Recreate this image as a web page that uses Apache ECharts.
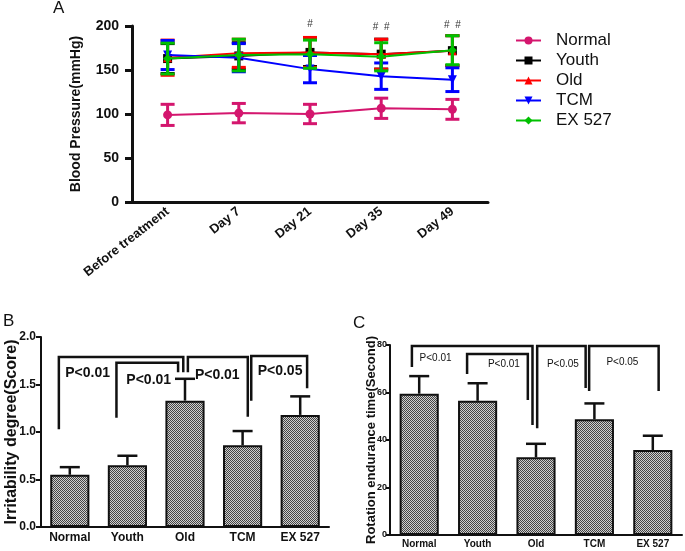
<!DOCTYPE html>
<html>
<head>
<meta charset="utf-8">
<title>Blood pressure, irritability and rotation endurance</title>
<script src="https://cdn.jsdelivr.net/npm/echarts@6/dist/echarts.min.js"></script>
<style>
  html, body { margin: 0; background: #fff; }
  #main { width: 685px; height: 551px; }
</style>
</head>
<body>
<div id="main"></div>
<script>
// ---- data ----
var days = ['Before treatment', 'Day 7', 'Day 21', 'Day 35', 'Day 49'];
var groups = ['Normal', 'Youth', 'Old', 'TCM', 'EX 527'];

// panel A: blood pressure (mean, error)
var bpNormal = [99, 101, 100, 106.5, 105.3];
var bpNormalErr = [12, 11, 11, 11.5, 11.3];
var bpYouth = [163, 166, 170, 168, 172];
var bpYouthErr = [17, 15, 16, 17, 17];
var bpOld = [164, 169, 170, 168, 172];
var bpOldErr = [20, 16, 17, 17, 17];
var bpTcm = [167, 164, 151, 143, 139];
var bpTcmErr = [16.5, 16, 15.5, 15, 13.5];
var bpEx = [163, 167, 168, 165, 172.5];
var bpExErr = [17.5, 18, 16, 16, 16.5];
var hashText = ['#', '#  #', '#  #'];
var hashPos = [[2, 202], [3, 199], [4, 201]];

// panel B: irritability degree
var irrMean = [0.55, 0.65, 1.33, 0.86, 1.18];
var irrErr = [0.08, 0.10, 0.23, 0.15, 0.195];
// bracket: [left x, right x, top, left end, right end], x in category units
var irrBrackets = [
  [-0.19, 1.97, 1.79, 1.03, 1.63],
  [0.81, 1.88, 1.73, 1.15, 1.63],
  [2.05, 3.09, 1.79, 1.63, 1.16],
  [3.15, 4.12, 1.80, 1.33, 1.46]
];
var irrPText = ['P<0.01', 'P<0.01', 'P<0.01', 'P<0.05'];
var irrPPos = [[0.31, 1.62], [1.37, 1.55], [2.56, 1.60], [3.65, 1.64]];

// panel C: rotation endurance time
var rotMean = [59.5, 56.5, 32.7, 48.7, 35.8];
var rotErr = [7.4, 7.4, 5.7, 6.7, 6.0];
var rotBrackets = [
  [-0.125, 1.94, 79.6, 70.7, 46.3],
  [0.82, 1.86, 76.2, 67.8, 56.8],
  [2.02, 2.85, 79.6, 45, 61.9],
  [2.91, 4.10, 79.6, 60.6, 60.6]
];
var rotPText = ['P<0.01', 'P<0.01', 'P<0.05', 'P<0.05'];
var rotPPos = [[0.28, 74.5], [1.45, 72], [2.46, 72], [3.48, 72.8]];

// ---- styles ----
var FONT = '"Liberation Sans", Arial, sans-serif';
var bpMeans = [bpNormal, bpYouth, bpOld, bpTcm, bpEx];
var bpErrs = [bpNormalErr, bpYouthErr, bpOldErr, bpTcmErr, bpExErr];
var colors = ['#d4166e', '#000000', '#ff0000', '#0000ff', '#00c000'];
var symbols = ['circle', 'rect', 'triangle', 'triangle', 'diamond'];
var symbolRot = [0, 0, 0, 180, 0];

// dotted fill for bars
var cv = document.createElement('canvas');
cv.width = 2; cv.height = 2;
var cx = cv.getContext('2d');
cx.fillStyle = '#cfcfcf'; cx.fillRect(0, 0, 2, 2);
cx.fillStyle = '#444'; cx.fillRect(0, 0, 1, 1); cx.fillRect(1, 1, 1, 1);

function toPairs(a, b) {
  return a.map(function (v, i) { return [i, v, b[i]]; });
}

// two-sided error bar (panel A)
function errBoth(color) {
  return function (params, api) {
    var m = api.value(1), e = api.value(2);
    var top = api.coord([api.value(0), m + e]);
    var bot = api.coord([api.value(0), m - e]);
    var w = 7;
    return {
      type: 'group',
      children: [
        { type: 'line', shape: { x1: top[0], y1: top[1], x2: bot[0], y2: bot[1] }, style: { stroke: color, lineWidth: 3 } },
        { type: 'line', shape: { x1: top[0] - w, y1: top[1], x2: top[0] + w, y2: top[1] }, style: { stroke: color, lineWidth: 3 } },
        { type: 'line', shape: { x1: bot[0] - w, y1: bot[1], x2: bot[0] + w, y2: bot[1] }, style: { stroke: color, lineWidth: 3 } }
      ]
    };
  };
}

// upper error bar (panels B, C)
function errUp(params, api) {
  var m = api.value(1), e = api.value(2);
  var base = api.coord([api.value(0), m]);
  var top = api.coord([api.value(0), m + e]);
  var w = 10;
  return {
    type: 'group',
    children: [
      { type: 'line', shape: { x1: base[0], y1: base[1], x2: top[0], y2: top[1] }, style: { stroke: '#111', lineWidth: 2.5 } },
      { type: 'line', shape: { x1: top[0] - w, y1: top[1], x2: top[0] + w, y2: top[1] }, style: { stroke: '#111', lineWidth: 2.5 } }
    ]
  };
}

function bracket(params, api) {
  var x0 = api.coord([0, 0])[0];
  var band = api.size([1, 0])[0];
  var xl = x0 + api.value(1) * band;
  var xr = x0 + api.value(2) * band;
  var yt = api.coord([0, api.value(3)])[1];
  var yl = api.coord([0, api.value(4)])[1];
  var yr = api.coord([0, api.value(5)])[1];
  return {
    type: 'polyline',
    shape: { points: [[xl, yl], [xl, yt], [xr, yt], [xr, yr]] },
    style: { stroke: '#111', lineWidth: 2.5, fill: null }
  };
}

function pText(texts, fontSize, weight) {
  return function (params, api) {
    var x0 = api.coord([0, 0])[0];
    var band = api.size([1, 0])[0];
    var y = api.coord([0, api.value(2)])[1];
    return {
      type: 'text',
      x: x0 + api.value(1) * band,
      y: y,
      style: {
        text: texts[params.dataIndex], fill: '#111', font: weight + ' ' + fontSize + 'px ' + FONT,
        align: 'center', verticalAlign: 'middle'
      }
    };
  };
}

function prep(rows) {
  return rows.map(function (r) { return [0].concat(r); });
}

var series = [];
groups.forEach(function (g, k) {
  series.push({
    type: 'custom', xAxisIndex: 0, yAxisIndex: 0,
    renderItem: errBoth(colors[k]),
    encode: { x: 0, y: 1 },
    data: toPairs(bpMeans[k], bpErrs[k]),
    z: 2 + k * 2
  });
  series.push({
    name: g, type: 'line', xAxisIndex: 0, yAxisIndex: 0,
    data: bpMeans[k],
    color: colors[k],
    symbol: symbols[k], symbolRotate: symbolRot[k], symbolSize: 9,
    lineStyle: { width: 2, color: colors[k] },
    itemStyle: { color: colors[k] },
    z: 3 + k * 2
  });
});

series.push({
  type: 'custom', xAxisIndex: 0, yAxisIndex: 0,
  encode: { x: 0, y: 1 },
  data: hashPos,
  renderItem: function (params, api) {
    var p = api.coord([api.value(0), api.value(1)]);
    return { type: 'text', x: p[0], y: p[1], style: { text: hashText[params.dataIndex], fill: '#333', font: '10px ' + FONT, align: 'center', verticalAlign: 'middle' } };
  }
});

var barFill = { image: cv, repeat: 'repeat' };

series.push({
  type: 'bar', xAxisIndex: 1, yAxisIndex: 1, data: irrMean, barWidth: '68%',
  itemStyle: { color: barFill, borderColor: '#111', borderWidth: 2 }
});
series.push({ type: 'custom', xAxisIndex: 1, yAxisIndex: 1, renderItem: errUp, encode: { x: 0, y: 1 }, data: toPairs(irrMean, irrErr), z: 1 });
series.push({ type: 'custom', xAxisIndex: 1, yAxisIndex: 1, renderItem: bracket, encode: { x: 0, y: 3 }, data: prep(irrBrackets) });
series.push({ type: 'custom', xAxisIndex: 1, yAxisIndex: 1, renderItem: pText(irrPText, 14, 'bold'), encode: { x: 0, y: 2 }, data: prep(irrPPos) });

series.push({
  type: 'bar', xAxisIndex: 2, yAxisIndex: 2, data: rotMean, barWidth: '67%',
  itemStyle: { color: barFill, borderColor: '#111', borderWidth: 2 }
});
series.push({ type: 'custom', xAxisIndex: 2, yAxisIndex: 2, renderItem: errUp, encode: { x: 0, y: 1 }, data: toPairs(rotMean, rotErr), z: 1 });
series.push({ type: 'custom', xAxisIndex: 2, yAxisIndex: 2, renderItem: bracket, encode: { x: 0, y: 3 }, data: prep(rotBrackets) });
series.push({ type: 'custom', xAxisIndex: 2, yAxisIndex: 2, renderItem: pText(rotPText, 10, 'normal'), encode: { x: 0, y: 2 }, data: prep(rotPPos) });

function catAxis(gridIndex, data, lineW, label) {
  return {
    type: 'category', gridIndex: gridIndex, data: data, boundaryGap: true,
    axisLine: { lineStyle: { color: '#111', width: lineW } },
    axisTick: { alignWithLabel: true, length: 5, lineStyle: { color: '#111', width: lineW } },
    axisLabel: label
  };
}

function valAxis(gridIndex, max, interval, lineW, tickLen, label, name, nameSize, nameGap, digits) {
  return {
    type: 'value', gridIndex: gridIndex, min: 0, max: max, interval: interval,
    splitLine: { show: false },
    axisLine: { show: true, lineStyle: { color: '#111', width: lineW } },
    axisTick: { show: true, length: tickLen, lineStyle: { color: '#111', width: lineW } },
    axisLabel: Object.assign({ formatter: function (v) { return v.toFixed(digits); } }, label),
    name: name, nameLocation: 'middle', nameGap: nameGap, nameMoveOverlap: false,
    nameTextStyle: { fontFamily: FONT, fontWeight: 'bold', fontSize: nameSize, color: '#111' }
  };
}

var chart = echarts.init(document.getElementById('main'));
chart.setOption({
  animation: false,
  backgroundColor: '#fff',
  textStyle: { fontFamily: FONT },
  grid: [
    { left: 132, top: 26, width: 356, height: 176, outerBoundsMode: 'none' },
    { left: 41, top: 337, width: 288, height: 190, outerBoundsMode: 'none' },
    { left: 390, top: 345, width: 292, height: 190, outerBoundsMode: 'none' }
  ],
  legend: {
    data: groups, orient: 'vertical', left: 510, top: 27,
    itemWidth: 25, itemHeight: 10, itemGap: 3,
    textStyle: { fontSize: 17, lineHeight: 17, color: '#111', padding: [0, 0, 0, 10] }
  },
  xAxis: [
    catAxis(0, days, 3, { rotate: 38, fontWeight: 'bold', fontSize: 13, color: '#111', margin: 8, interval: 0 }),
    catAxis(1, groups, 2, { fontWeight: 'bold', fontSize: 12, color: '#111', margin: 5, interval: 0 }),
    catAxis(2, groups, 2, { fontWeight: 'bold', fontSize: 10, color: '#111', margin: 4, interval: 0 })
  ],
  yAxis: [
    valAxis(0, 200, 50, 3, 7, { fontWeight: 'bold', fontSize: 14, color: '#111', margin: 13 }, 'Blood Pressure(mmHg)', 14, 49, 0),
    valAxis(1, 2, 0.5, 2, 5, { fontWeight: 'bold', fontSize: 12, color: '#111', margin: 5 }, 'Irritability degree(Score)', 16, 21, 1),
    valAxis(2, 80, 20, 2, 4, { fontWeight: 'bold', fontSize: 9, color: '#111', margin: 3 }, 'Rotation endurance time(Second)', 13, 12, 0)
  ],
  graphic: [
    { type: 'text', left: 53, top: 0, style: { text: 'A', font: '17px ' + FONT, fill: '#111' } },
    { type: 'text', left: 3, top: 313, style: { text: 'B', font: '17px ' + FONT, fill: '#111' } },
    { type: 'text', left: 353, top: 315, style: { text: 'C', font: '17px ' + FONT, fill: '#111' } }
  ],
  series: series
});
</script>
</body>
</html>
